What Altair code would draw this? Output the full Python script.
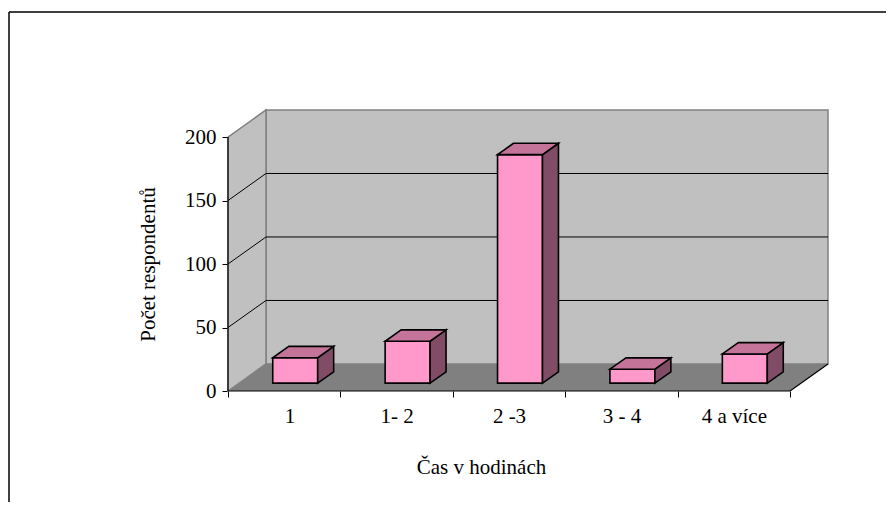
import json
import altair as alt
import pandas as pd

# ---- data ----
categories = ["1", "1- 2", "2 -3", "3 - 4", "4 a více"]
values = [20, 33, 180, 11, 23]
y_ticks = [0, 50, 100, 150, 200]
grid_values = [50, 100, 150]
x_title = "Čas v hodinách"
y_title = "Počet respondentů"

# ---- 3D geometry (in data units) ----
N = len(categories)
YMAX = 200
DX = 0.338      # depth of the floor, in category units
DY = 21.3       # depth of the floor, in value units
XMAX = N + DX
YTOP = YMAX + DY
BAR_W = 0.4
F = 0.29        # bar front offset (fraction of depth)
D = 0.42        # bar depth (fraction of depth)
W, H = 600, 281

FONT = "'Times New Roman', 'Liberation Serif', 'DejaVu Serif', serif"
FS = 21
PINK = "#FF99CC"
TOP = "#C47399"
SIDE = "#814D66"
WALL = "#C0C0C0"
FLOOR = "#808080"
EDGE = "#808080"

xs = alt.Scale(domain=[0, XMAX], nice=False, zero=False)
ys = alt.Scale(domain=[0, YTOP], nice=False, zero=False)

label_expr = json.dumps(categories) + "[datum.value] || ''"
X_AX = alt.Axis(
    values=list(range(N + 1)), labelExpr=label_expr, labelOffset=W / XMAX / 2,
    tickSize=6, tickColor="black", tickWidth=1, domain=False, grid=False,
    labelPadding=8, labelFont=FONT, labelFontSize=FS, labelColor="black",
    title=x_title, titleFont=FONT, titleFontSize=FS, titleFontWeight="normal",
    titleColor="black", titleX=253, titleY=82, titleBaseline="alphabetic",
    titleAlign="center")
Y_AX = alt.Axis(
    values=y_ticks, tickSize=6, tickColor="black", tickWidth=1, domain=False,
    grid=False, labelPadding=6, labelFont=FONT, labelFontSize=FS,
    labelColor="black", title=y_title, titleFont=FONT, titleFontSize=FS,
    titleFontWeight="normal", titleColor="black", titleX=-80,
    titleY=H - (YMAX / 2) / YTOP * H, titleAngle=270, titleAlign="center",
    titleBaseline="middle")


def X(f):
    return alt.X(f, scale=xs, axis=X_AX)


def Y(f):
    return alt.Y(f, scale=ys, axis=Y_AX)


bars, side, top = [], [], []
for i, (c, v) in enumerate(zip(categories, values)):
    xl = i + 0.5 - BAR_W / 2 + F * DX
    xr = xl + BAR_W
    yb = F * DY
    yt = yb + v
    bdx, bdy = D * DX, D * DY
    bars.append(dict(cat=c, xl=xl, xr=xr, yb=yb, yt=yt))
    side.append(dict(cat=c, xs=xr, lo=yb, hi=yt))
    side.append(dict(cat=c, xs=xr + bdx, lo=yb + bdy, hi=yt + bdy))
    top.append(dict(cat=c, ys=yt, a=xl, b=xr))
    top.append(dict(cat=c, ys=yt + bdy, a=xl + bdx, b=xr + bdx))
bars, side, top = pd.DataFrame(bars), pd.DataFrame(side), pd.DataFrame(top)

floor = pd.DataFrame([dict(ys=0, a=0, b=N), dict(ys=DY, a=DX, b=N + DX)])
sidewall = pd.DataFrame([dict(xs=0, lo=0, hi=YMAX), dict(xs=DX, lo=DY, hi=YTOP)])
backwall = pd.DataFrame([dict(x0=DX, x1=N + DX, y0=DY, y1=YTOP)])
grid = pd.DataFrame([dict(v=g, vb=g + DY, x0=0, xb=DX, x1=N + DX) for g in grid_values])
edges = pd.DataFrame([
    dict(x0=0, y0=0, x1=N, y1=0),            # front edge (x axis line)
    dict(x0=0, y0=0, x1=0, y1=YMAX),         # y axis line
    dict(x0=N, y0=0, x1=N + DX, y1=DY),      # right floor edge
])

back = alt.Chart(backwall).mark_rect(fill=WALL, stroke=EDGE, strokeWidth=1.5).encode(
    x=X("x0:Q"), x2="x1:Q", y=Y("y0:Q"), y2="y1:Q",
)

wall = alt.Chart(sidewall).mark_area(fill=WALL, stroke=EDGE, strokeWidth=1.5, opacity=1).encode(
    x=X("xs:Q"), y=Y("lo:Q"), y2="hi:Q",
)

flo = alt.Chart(floor).mark_area(orient="horizontal", fill=FLOOR, opacity=1).encode(
    y=Y("ys:Q"), x=X("a:Q"), x2="b:Q",
)

grid_back = alt.Chart(grid).mark_rule(color="black", strokeWidth=1).encode(
    x=X("xb:Q"), x2="x1:Q", y=Y("vb:Q"),
)
grid_side = alt.Chart(grid).mark_rule(color="black", strokeWidth=1).encode(
    x=X("x0:Q"), x2="xb:Q", y=Y("v:Q"), y2="vb:Q",
)

edge = alt.Chart(edges).mark_rule(color="black", strokeWidth=1.2).encode(
    x=X("x0:Q"), x2="x1:Q", y=Y("y0:Q"), y2="y1:Q",
)

front = alt.Chart(bars).mark_rect(fill=PINK, stroke="black", strokeWidth=1.6).encode(
    x=X("xl:Q"), x2="xr:Q", y=Y("yb:Q"), y2="yt:Q",
)
sidef = alt.Chart(side).mark_area(fill=SIDE, stroke="black", strokeWidth=1.6, opacity=1,
                                  strokeJoin="miter").encode(
    x=X("xs:Q"), y=Y("lo:Q"), y2="hi:Q", detail="cat:N",
)
topf = alt.Chart(top).mark_area(orient="horizontal", fill=TOP, stroke="black",
                                strokeWidth=1.6, opacity=1, strokeJoin="miter").encode(
    y=Y("ys:Q"), x=X("a:Q"), x2="b:Q", detail="cat:N",
)

# outer frame of the chart object
frame_v = alt.Chart(pd.DataFrame({"k": [0]})).mark_rule(color="black", strokeWidth=1.5).encode(
    x=alt.value(-219), y=alt.value(-98), y2=alt.value(400))
frame_h = alt.Chart(pd.DataFrame({"k": [0]})).mark_rule(color="black", strokeWidth=1.5).encode(
    x=alt.value(-219), x2=alt.value(700), y=alt.value(-98))

chart = alt.layer(
    back, wall, flo, grid_back, grid_side, edge, front, sidef, topf, frame_v, frame_h
).properties(
    width=W, height=H,
    autosize=alt.AutoSizeParams(type="none"),
    padding={"left": 220, "top": 102, "right": 58, "bottom": 111},
    background="white",
).configure(
    font=FONT,
).configure_axis(
    labelFont=FONT, titleFont=FONT, labelFontSize=FS, titleFontSize=FS,
).configure_view(stroke=None)

chart.save("out.html", embed_options={"renderer": "svg", "actions": False})
